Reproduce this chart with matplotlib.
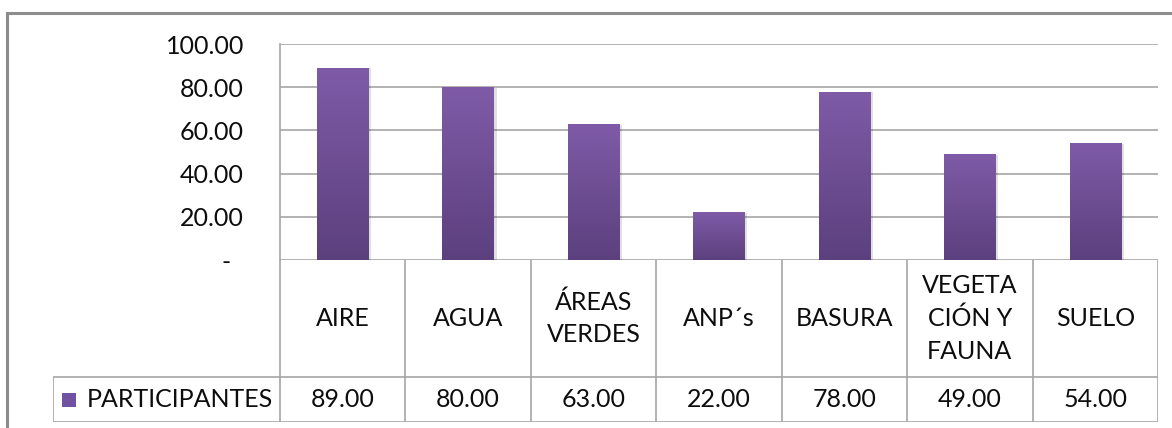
import numpy as np
import matplotlib
matplotlib.use("Agg")
import matplotlib.pyplot as plt
from matplotlib.patches import Rectangle
from matplotlib.colors import LinearSegmentedColormap

categories = ["AIRE", "AGUA", "ÁREAS\nVERDES", "ANP´s", "BASURA", "VEGETA\nCIÓN Y\nFAUNA", "SUELO"]
values = [89.00, 80.00, 63.00, 22.00, 78.00, 49.00, 54.00]
series_name = "PARTICIPANTES"
y_ticks = [0, 20, 40, 60, 80, 100]
y_tick_labels = ["-  ", "20.00", "40.00", "60.00", "80.00", "100.00"]

W, H = 1172, 428
FONT = "Lato"
FS = 18
GRID = "#a6a6a6"
TEXT = "#0d0d0d"

fig = plt.figure(figsize=(W / 100, H / 100), dpi=100)
fig.patch.set_facecolor("white")


def px_box(x0, y0, x1, y1):
    # pixel box (top-left origin) -> figure fraction
    return [x0 / W, 1 - y1 / H, (x1 - x0) / W, (y1 - y0) / H]


# ---- outer chart frame ---------------------------------------------
frame = fig.add_axes([0, 0, 1, 1])
frame.set_xlim(0, W)
frame.set_ylim(H, 0)
frame.axis("off")
frame.plot([7, 7, W + 5], [H + 5, 13, 13], color="#8c8c8c", lw=2.2,
           solid_joinstyle="miter")

# ---- bar plot area -------------------------------------------------
ax = fig.add_axes(px_box(280, 44, 1158, 260))
n = len(categories)
ax.set_xlim(0, n)
ax.set_ylim(0, 100)
for s in ["top", "right", "bottom"]:
    ax.spines[s].set_visible(False)
ax.spines["left"].set_color(GRID)
ax.spines["left"].set_linewidth(1.2)
ax.set_xticks([])
ax.set_yticks(y_ticks)
ax.set_yticklabels(y_tick_labels, fontsize=FS, fontfamily=FONT, color=TEXT)
ax.tick_params(axis="y", length=0, pad=26)
for t in y_ticks:
    ax.axhline(t, color=GRID, lw=1.2, zorder=1)

cmap = LinearSegmentedColormap.from_list("purp", ["#5c407e", "#7f5ba7"])
grad = np.linspace(0, 1, 256).reshape(-1, 1)
bw = 0.41
for i, v in enumerate(values):
    x0 = i + 0.5 - bw / 2
    # soft shadow
    sh = Rectangle((x0 + 0.012, 0), bw + 0.01, v - 0.3, facecolor="#000000",
                   alpha=0.12, edgecolor="none", zorder=2)
    ax.add_patch(sh)
    rect = Rectangle((x0, 0), bw, v, facecolor="none", edgecolor="none", zorder=3)
    ax.add_patch(rect)
    im = ax.imshow(grad, extent=(x0, x0 + bw, 0, v), origin="lower", cmap=cmap,
                   aspect="auto", zorder=3)
    im.set_clip_path(rect)
ax.set_xlim(0, n)
ax.set_ylim(0, 100)

# ---- data table ----------------------------------------------------
leg_w = (280 - 53) / ((1158 - 280) / n)
tab = fig.add_axes(px_box(53, 260, 1158, 422))
tab.set_xlim(-leg_w, n)
tab.set_ylim(0, 162)
tab.axis("off")
row_split = 45
lk = dict(color=GRID, lw=1.2, solid_capstyle="butt")
for i in range(n + 1):
    tab.plot([i, i], [0, 162], **lk)
tab.plot([-leg_w, -leg_w], [0, row_split], **lk)
tab.plot([-leg_w, n], [0, 0], **lk)
tab.plot([-leg_w, n], [row_split, row_split], **lk)

for i, (c, v) in enumerate(zip(categories, values)):
    tab.text(i + 0.5, row_split + (162 - row_split) / 2, c, ha="center", va="center",
             fontsize=FS, fontfamily=FONT, color=TEXT, linespacing=1.5)
    tab.text(i + 0.5, row_split / 2, f"{v:.2f}", ha="center", va="center",
             fontsize=FS, fontfamily=FONT, color=TEXT)

tab.add_patch(Rectangle((-leg_w + 0.07, row_split / 2 - 7), 0.115, 14,
                        facecolor="#7052a0", edgecolor="none"))
tab.text(-leg_w + 0.27, row_split / 2, series_name, ha="left", va="center",
         fontsize=FS, fontfamily=FONT, color=TEXT)

fig.savefig("out.png", dpi=100)
